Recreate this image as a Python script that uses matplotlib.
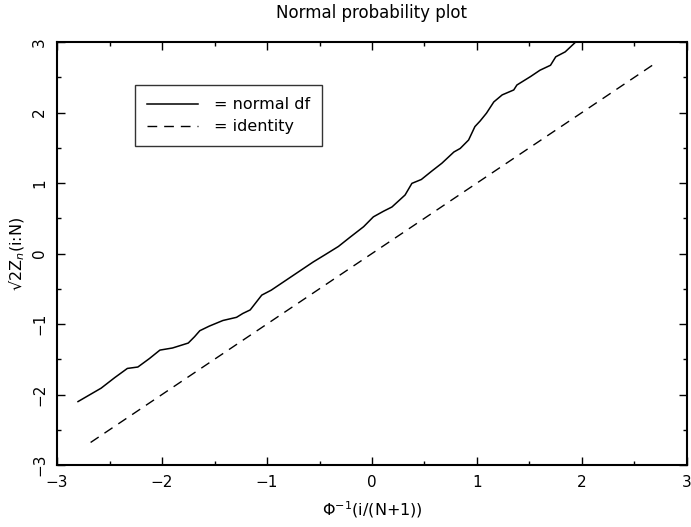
import matplotlib
matplotlib.use("Agg")
import matplotlib.pyplot as plt
from matplotlib.ticker import MultipleLocator

# normal df curve
curve_x = [-2.80, -2.58, -2.45, -2.33, -2.23, -2.12, -2.02, -1.90, -1.75, -1.69,
           -1.64, -1.55, -1.42, -1.29, -1.23, -1.16, -1.05, -0.96, -0.85, -0.70,
           -0.56, -0.45, -0.32, -0.21, -0.08, 0.013, 0.11, 0.19, 0.315, 0.38,
           0.47, 0.57, 0.665, 0.78, 0.84, 0.92, 0.98, 1.03, 1.09, 1.16,
           1.24, 1.35, 1.38, 1.51, 1.60, 1.70, 1.75, 1.84, 1.94]
curve_y = [-2.10, -1.91, -1.76, -1.63, -1.61, -1.49, -1.37, -1.34, -1.27, -1.18,
           -1.095, -1.03, -0.95, -0.905, -0.85, -0.80, -0.59, -0.52, -0.41, -0.26,
           -0.12, -0.02, 0.10, 0.23, 0.38, 0.52, 0.60, 0.66, 0.83, 0.995,
           1.05, 1.17, 1.28, 1.44, 1.49, 1.61, 1.80, 1.88, 1.99, 2.15,
           2.25, 2.32, 2.39, 2.51, 2.60, 2.67, 2.79, 2.86, 3.0]

# identity line
ident_x = [-2.68, 2.68]
ident_y = [-2.68, 2.68]

ticks = [-3, -2, -1, 0, 1, 2, 3]
tick_labels = ["\u22123", "\u22122", "\u22121", "0", "1", "2", "3"]

plt.rcParams['font.family'] = ['DejaVu Sans']

fig = plt.figure(figsize=(6.91, 5.27), dpi=100)
ax = fig.add_axes([0.0825, 0.1176, 0.9117, 0.8027])

ax.plot(curve_x, curve_y, color='black', lw=1.1, label='= normal df')
ax.plot(ident_x, ident_y, color='black', lw=1.0, dashes=(7, 5), label='= identity')

ax.set_xlim(-3, 3)
ax.set_ylim(-3, 3)
ax.set_xticks(ticks)
ax.set_xticklabels(tick_labels)
ax.set_yticks(ticks)
ax.set_yticklabels(tick_labels, rotation=90, va='center')
ax.xaxis.set_minor_locator(MultipleLocator(0.5))
ax.yaxis.set_minor_locator(MultipleLocator(0.5))
ax.tick_params(which='both', direction='in', top=True, right=True, labelsize=11, color='black')
ax.tick_params(which='major', length=6, width=1.0, pad=7)
ax.tick_params(which='minor', length=3, width=1.0)
for s in ax.spines.values():
    s.set_linewidth(1.5)

ax.set_title("Normal probability plot", fontsize=12, pad=17)
ax.set_xlabel("\u03a6$^{-1}$(i/(N+1))", fontsize=11.5, labelpad=7)
ax.set_ylabel("\u221a2Z$_n$(i:N)", fontsize=11.5, labelpad=4)

leg = ax.legend(loc='upper left', bbox_to_anchor=(0.124, 0.898), borderaxespad=0,
                handlelength=3.2, fontsize=11.5, fancybox=False, frameon=True,
                borderpad=0.75, labelspacing=0.45, handletextpad=1.0)
leg.get_frame().set_edgecolor('black')
leg.get_frame().set_linewidth(1.0)

fig.savefig("out.png", dpi=100)
